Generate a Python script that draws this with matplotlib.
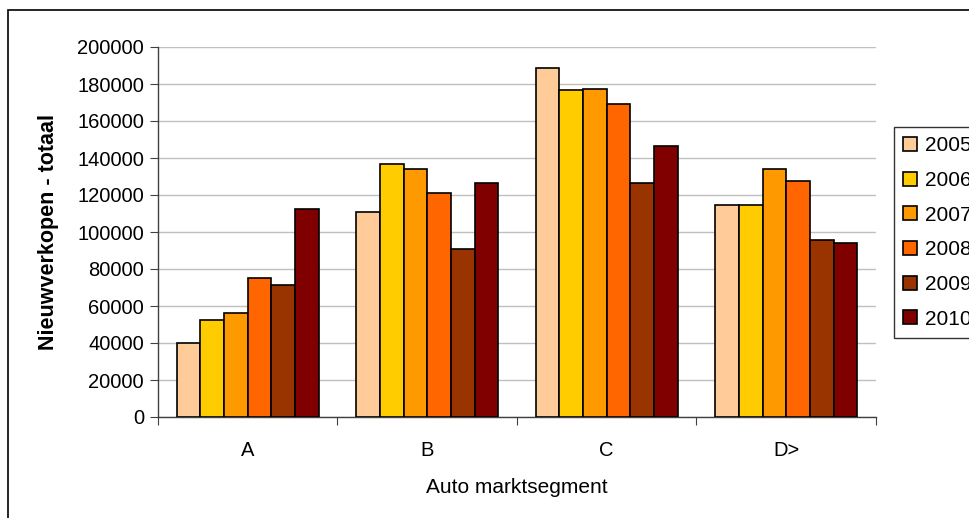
import numpy as np
import matplotlib
matplotlib.use("Agg")
import matplotlib.pyplot as plt
from matplotlib.patches import Rectangle

plt.rcParams['font.family'] = ['Liberation Sans', 'DejaVu Sans']

# Nieuwverkopen per segment en jaar
segments = ["A", "B", "C", "D>"]
years = ["2005", "2006", "2007", "2008", "2009", "2010"]
sales_2005 = [40000, 111000, 188500, 114500]
sales_2006 = [52500, 137000, 176500, 114500]
sales_2007 = [56000, 134000, 177500, 134000]
sales_2008 = [75000, 121000, 169000, 127500]
sales_2009 = [71500, 91000, 126500, 95500]
sales_2010 = [112500, 126500, 146500, 94000]
series = [sales_2005, sales_2006, sales_2007, sales_2008, sales_2009, sales_2010]
colors = ["#FFCC99", "#FFCC00", "#FF9900", "#FF6600", "#993300", "#800000"]

W, H = 970, 518
fig = plt.figure(figsize=(W / 100, H / 100), dpi=100)
ax = fig.add_axes([158 / W, 1 - 417 / H, 718 / W, 370 / H])

# outer chart frame (cut off at right and bottom)
fig.patches.append(Rectangle((8 / W, -0.1), 1.2, 1 - 10 / H + 0.1,
                             transform=fig.transFigure, fill=False,
                             edgecolor="black", linewidth=1.2, clip_on=False))

x = np.arange(len(segments))
bw = 0.79 / len(series)
for i, (vals, col, yr) in enumerate(zip(series, colors, years)):
    offs = (i - (len(series) - 1) / 2) * bw
    ax.bar(x + offs, vals, width=bw, color=col, edgecolor="black",
           linewidth=1.2, label=yr, zorder=3)

ax.set_xlim(-0.5, len(segments) - 0.5)
ax.set_ylim(0, 200000)
ax.set_yticks(np.arange(0, 200001, 20000))
ax.yaxis.grid(True, color="#c0c0c0", linewidth=1, zorder=0)
ax.set_axisbelow(True)

# category ticks between groups, labels centred
ax.set_xticks(np.arange(-0.5, len(segments), 1.0))
ax.set_xticklabels([])
ax.set_xticks(x, minor=True)
ax.set_xticklabels(segments, minor=True)
ax.tick_params(axis="x", which="minor", length=0, pad=17, labelsize=14.5)
ax.tick_params(axis="x", which="major", length=6, direction="out", color="#404040")
ax.tick_params(axis="y", length=6, direction="out", color="#404040", labelsize=14.5, pad=4)

for s in ["top", "right"]:
    ax.spines[s].set_visible(False)
for s in ["left", "bottom"]:
    ax.spines[s].set_color("#404040")
    ax.spines[s].set_linewidth(1)

ax.set_ylabel("Nieuwverkopen - totaal", fontsize=15.5, fontweight="bold", labelpad=13)
ax.set_xlabel("Auto marktsegment", fontsize=15, labelpad=13)

leg = ax.legend(loc="upper left", bbox_to_anchor=(894 / W, 1 - 127 / H),
                bbox_transform=fig.transFigure, frameon=True, fancybox=False,
                fontsize=15, handlelength=0.65, handleheight=0.65,
                handletextpad=0.4, labelspacing=0.75, borderpad=0.45,
                borderaxespad=0)
leg.get_frame().set_edgecolor("black")
leg.get_frame().set_linewidth(1)

fig.savefig("out.png", dpi=100)
